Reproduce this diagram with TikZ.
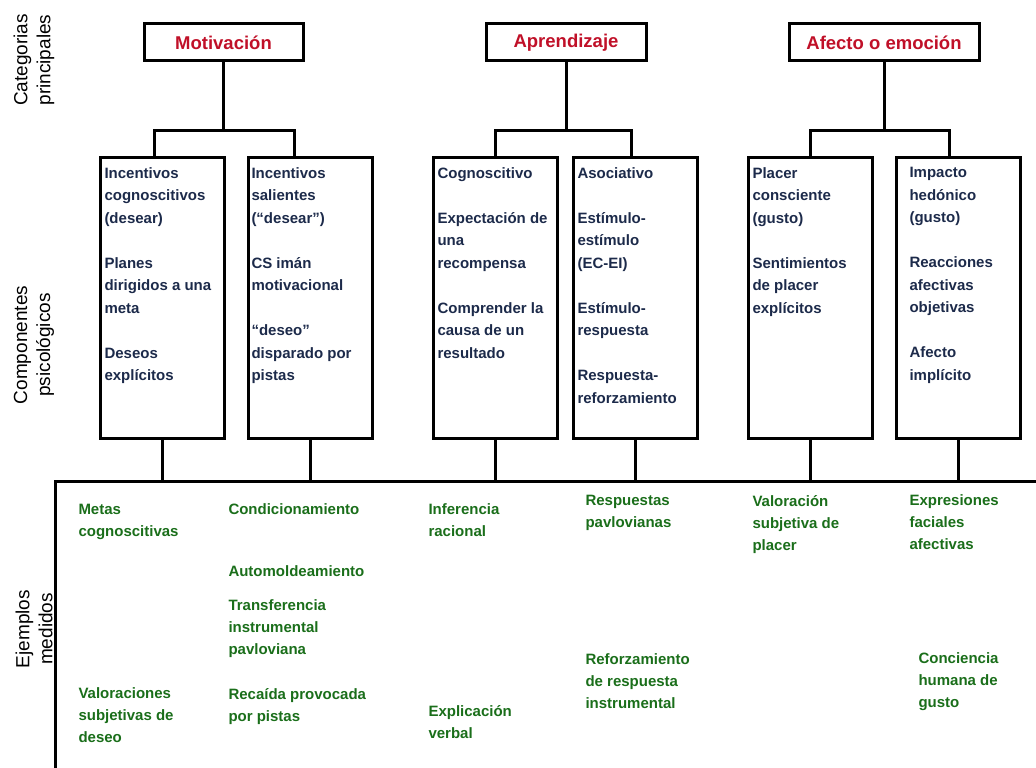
\documentclass[tikz,border=0pt]{standalone}
\usepackage{fontspec}
\setmainfont{Liberation Sans}
\usepackage{tikz}
\usetikzlibrary{positioning}
\definecolor{headred}{RGB}{192,16,40}
\definecolor{compblue}{RGB}{28,42,74}
\definecolor{exgreen}{RGB}{26,110,26}

\begin{document}
\begin{tikzpicture}[x=1pt, y=-1pt, line width=3pt,
    head/.style={draw, minimum height=37pt, inner sep=0pt, text=headred, font=\fontsize{18.5}{22}\selectfont\bfseries},
    comp/.style={draw, minimum width=124pt, minimum height=281pt, inner sep=0pt},
    ctext/.style={anchor=north west, align=left, inner sep=0pt, text=compblue, font=\fontsize{15}{22.5}\selectfont\bfseries},
    ex/.style={ctext, text=exgreen, font=\fontsize{15}{22}\selectfont\bfseries},
    side/.style={rotate=90, align=center, inner sep=0pt, font=\fontsize{19}{23}\selectfont}]
    \useasboundingbox (0,0) rectangle (1036,768);

    \node[side]                  (lCat)   at (34,60)     {Categorias\\principales};
    \node[side]                  (lComp)  at (34,345)    {Componentes\\psicológicos};
    \node[side]                  (lEj)    at (34,629)    {Ejemplos\\medidos};

    \node[head, minimum width=159pt]  (hMot)  at (223.5,42.5)  {Motivación};
    \node[head, minimum width=160pt]  (hApr)  at (566,42.5)    {Aprendizaje};
    \node[head, minimum width=190pt]  (hAfe)  at (884,42.5)    {Afecto o emoción};

    \node[comp]                  (bMot1)  at (162,297.5)  {};
    \node[comp]                  (bMot2)  [right=21pt of bMot1] {};
    \node[comp]                  (bApr1)  at (495,297.5)  {};
    \node[comp]                  (bApr2)  [right=13pt of bApr1] {};
    \node[comp]                  (bAfe1)  at (810,297.5)  {};
    \node[comp]                  (bAfe2)  [right=21pt of bAfe1] {};

    \node[ctext] (tMot1) at (103,166) {Incentivos\\cognoscitivos\\(desear)\\[22.5pt]Planes\\dirigidos a una\\meta\\[22.5pt]Deseos\\explícitos};
    \node[ctext] (tMot2) at (250,166) {Incentivos\\salientes\\(“desear”)\\[22.5pt]CS imán\\motivacional\\[22.5pt]“deseo”\\disparado por\\pistas};
    \node[ctext] (tApr1) at (436,166) {Cognoscitivo\\[22.5pt]Expectación de\\una\\recompensa\\[22.5pt]Comprender la\\causa de un\\resultado};
    \node[ctext] (tApr2) at (576,166) {Asociativo\\[22.5pt]Estímulo-\\estímulo\\(EC-EI)\\[22.5pt]Estímulo-\\respuesta\\[22.5pt]Respuesta-\\reforzamiento};
    \node[ctext] (tAfe1) at (751,166) {Placer\\consciente\\(gusto)\\[22.5pt]Sentimientos\\de placer\\explícitos};
    \node[ctext] (tAfe2) at (908,166) {Impacto\\hedónico\\(gusto)\\[22.5pt]Reacciones\\afectivas\\objetivas\\[22.5pt]Afecto\\implícito};

    \draw (hMot.south) -- ++(0,67.5) coordinate (jMot);
    \draw (hApr.south) -- ++(0,67.5) coordinate (jApr);
    \draw (hAfe.south) -- ++(0,67.5) coordinate (jAfe);
    \draw ([xshift=-8pt]bMot1.north) |- (jMot) -| ([xshift=-16pt]bMot2.north);
    \draw (bApr1.north) |- (jApr) -| ([xshift=-4pt]bApr2.north);
    \draw (bAfe1.north) |- (jAfe) -| ([xshift=-9pt]bAfe2.north);

    \coordinate (fr) at (55,481);
    \draw (1040,481) -- (fr) -- (55,772);
    \foreach \b in {bMot1,bMot2,bApr1,bApr2,bAfe1,bAfe2}
        \draw (\b.south) -- (\b.south |- fr);

    \node[ex] (eMet)  at (77,502.5)  {Metas\\cognoscitivas};
    \node[ex] (eCon)  at (227,502.5) {Condicionamiento};
    \node[ex] (eAut)  at (227,564.5) {Automoldeamiento};
    \node[ex] (eTra)  at (227,598.5) {Transferencia\\instrumental\\pavloviana};
    \node[ex] (eVal)  at (77,686.5)  {Valoraciones\\subjetivas de\\deseo};
    \node[ex] (eRec)  at (227,686.5) {Recaída provocada\\por pistas};
    \node[ex] (eInf)  at (427,502.5) {Inferencia\\racional};
    \node[ex] (eExp)  at (427,703.5) {Explicación\\verbal};
    \node[ex] (eRes)  at (584,493.5) {Respuestas\\pavlovianas};
    \node[ex] (eRef)  at (584,652.5) {Reforzamiento\\de respuesta\\instrumental};
    \node[ex] (eVpl)  at (751,493.5) {Valoración\\subjetiva de\\placer};
    \node[ex] (eFac)  at (908,493.5) {Expresiones\\faciales\\afectivas};
    \node[ex] (eHum)  at (917,651.5) {Conciencia\\humana de\\gusto};
\end{tikzpicture}
\end{document}
